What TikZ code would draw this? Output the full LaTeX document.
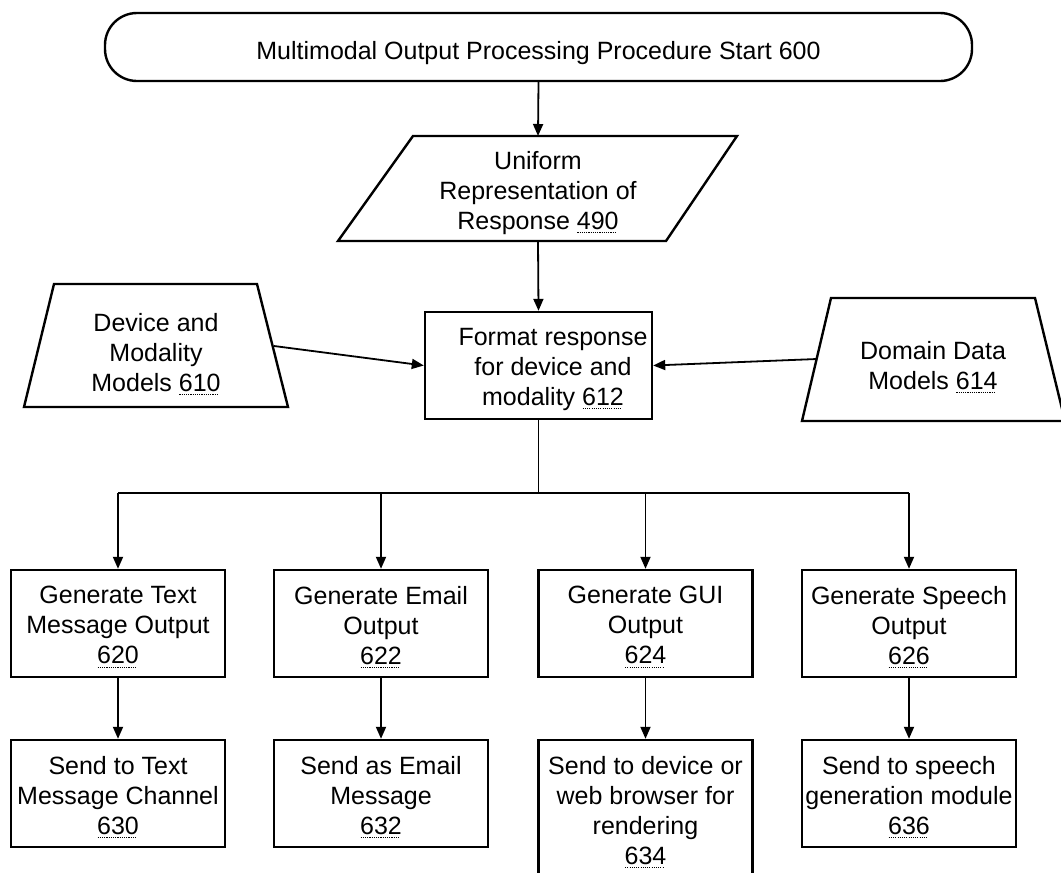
\documentclass[tikz,border=0pt]{standalone}
\usepackage{fontspec}
\setmainfont{Liberation Sans}
\usetikzlibrary{arrows.meta}
\newcommand\dotul[1]{\setbox0\hbox{#1}\leavevmode\rlap{\raisebox{-3.5pt}{\hbox to \wd0{\leaders\hbox to 2.2pt{\hss\rule{1.1pt}{0.9pt}\hss}\hfill}}}\box0}
\begin{document}
\begin{tikzpicture}[x=1pt,y=-1pt,
  shp/.style={draw=black,line width=2.4pt},
  txt/.style={font=\fontsize{25}{30}\selectfont,align=center,inner sep=0pt},
  box/.style={shp,minimum width=214pt,minimum height=107pt},
  arr/.style={line width=1.8pt,-{Triangle[length=12pt,width=10pt]}},
  ln/.style={line width=1.4pt}]
\useasboundingbox (0,0) rectangle (1061,873);
\clip (0,0) rectangle (1061,873);
% start terminal
\node[shp,rounded corners=32pt,minimum width=867pt,minimum height=68pt,inner sep=0pt] (start) at (538.5,47) {};
\node[txt] (starttxt) at (538.5,53) {Multimodal Output Processing Procedure Start 600};
% parallelogram
\draw[shp,line join=miter] (413,136) -- (737,136) -- (666,241) -- (338,241) -- cycle;
\coordinate (pt) at (538,136);
\coordinate (pb) at (538,241);
\node[txt] (par) at (538,193) {Uniform\\Representation of\\Response \dotul{490}};
% left trapezoid
\draw[shp] (54,284) -- (257,284) -- (288,407) -- (24,407) -- cycle;
\node[txt] (dev) at (156,354) {Device and\\Modality\\Models \dotul{610}};
\coordinate (lt) at (274,346);
% right trapezoid
\draw[shp] (831,298) -- (1035,298) -- (1065,421) -- (802,421) -- cycle;
\node[txt] (dom) at (933,367) {Domain Data\\Models \dotul{614}};
\coordinate (rt) at (817,359);
% format box
\node[shp,minimum width=227pt,minimum height=107pt,inner sep=0pt] (fmt) at (538.5,365.5) {};
\node[txt] (fmttxt) at (553,369) {Format response\\for device and\\modality \dotul{612}};
% row 1
\node[box] (g620) at (118,623.5) {};
\node[box] (g622) at (381,623.5) {};
\node[box] (g624) at (645.5,623.5) {};
\node[box] (g626) at (909,623.5) {};
\node[txt] (t620) at (118,627) {Generate Text\\Message Output\\\dotul{620}};
\node[txt] (t622) at (381,627) {Generate Email\\Output\\\dotul{622}};
\node[txt] (t624) at (645.5,627) {Generate GUI\\Output\\\dotul{624}};
\node[txt] (t626) at (909,627) {Generate Speech\\Output\\\dotul{626}};
% row 2
\node[box] (s630) at (118,793.5) {};
\node[box] (s632) at (381,793.5) {};
\node[box,minimum height=140pt] (s634) at (645.5,810) {};
\node[box] (s636) at (909,793.5) {};
\node[txt] (t630) at (118,797) {Send to Text\\Message Channel\\\dotul{630}};
\node[txt] (t632) at (381,797) {Send as Email\\Message\\\dotul{632}};
\node[txt] (t634) at (645.5,812) {Send to device or\\web browser for\\rendering\\\dotul{634}};
\node[txt] (t636) at (909,797) {Send to speech\\generation module\\\dotul{636}};
% connectors
\draw[arr] (start.south) -- (pt);
\draw[arr] (pb) -- (fmt.north);
\draw[arr] (lt) -- (fmt.west);
\draw[arr] (rt) -- (fmt.east);
\coordinate (bus) at (538.5,493);
\draw[ln] (fmt.south) -- (bus);
\draw[ln] (g620.north |- bus) -- (g626.north |- bus);
\draw[arr] (g620.north |- bus) -- (g620.north);
\draw[arr] (g622.north |- bus) -- (g622.north);
\draw[arr] (g624.north |- bus) -- (g624.north);
\draw[arr] (g626.north |- bus) -- (g626.north);
\draw[arr] (g620) -- (s630);
\draw[arr] (g622) -- (s632);
\draw[arr] (g624) -- (s634);
\draw[arr] (g626) -- (s636);
\end{tikzpicture}
\end{document}
